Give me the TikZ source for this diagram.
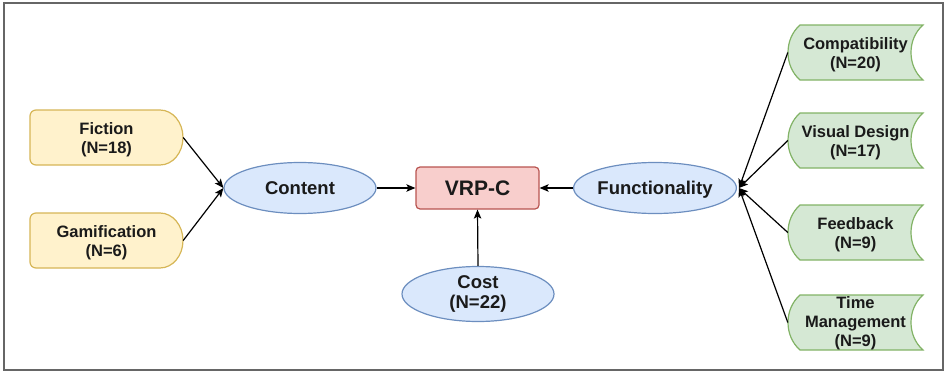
\documentclass[tikz,border=0pt]{standalone}
\usepackage{fontspec}
\setmainfont{Liberation Sans}
\usetikzlibrary{arrows.meta,shapes.geometric}

\definecolor{yfill}{HTML}{FFF2CC}\definecolor{ydraw}{HTML}{D6B656}
\definecolor{bfill}{HTML}{DAE8FC}\definecolor{bdraw}{HTML}{6C8EBF}
\definecolor{rfill}{HTML}{F8CECC}\definecolor{rdraw}{HTML}{B85450}
\definecolor{gfill}{HTML}{D5E8D4}\definecolor{gdraw}{HTML}{82B366}
\definecolor{txt}{HTML}{1A1A1A}

\tikzset{
  bigtext/.style={font=\bfseries\fontsize{18.5}{20}\selectfont, text=txt, align=center},
  smalltext/.style={font=\bfseries\fontsize{16.5}{19}\selectfont, text=txt, align=center},
  oval/.style={ellipse, draw=bdraw, fill=bfill, line width=1.2pt, inner sep=0pt,
               minimum width=152pt, minimum height=51pt, bigtext},
  oneline/.style={text height=13.2pt, text depth=0pt},
  corebox/.style={rectangle, rounded corners=4pt, draw=rdraw, fill=rfill, line width=1.2pt,
               minimum width=123pt, minimum height=42pt, text height=15pt, text depth=0pt,
               font=\bfseries\fontsize{21}{24}\selectfont, text=txt},
  yslot/.style={rectangle, minimum width=153pt, minimum height=55pt, inner sep=0pt, smalltext},
  gslot/.style={rectangle, minimum width=135pt, minimum height=55pt, inner sep=0pt, smalltext},
  yline/.style={draw=ydraw, fill=yfill, line width=1.2pt},
  gline/.style={draw=gdraw, fill=gfill, line width=1.2pt},
  link/.style={draw=black, line width=1.2pt, -{Stealth[length=9pt,width=7.5pt,inset=2pt]}},
}

\begin{document}
\begin{tikzpicture}[x=1pt,y=-1pt]
  \useasboundingbox (0,0) rectangle (946,372);
  \draw[gray!80!black, line width=1.1pt] (4,3) rectangle (943,370);

  % yellow source boxes (delay shape, rounded left corners)
  \foreach \n/\yy in {fic/137.5, gam/240.5}{
    \coordinate (\n-c) at (106.5,\yy);
    \path[yline] ([shift={(53.5,-27.5)}]\n-c)
      -- ([shift={(-70.5,-27.5)}]\n-c)
      .. controls ([shift={(-73.8,-27.5)}]\n-c) and ([shift={(-76.5,-24.8)}]\n-c)
      .. ([shift={(-76.5,-21.5)}]\n-c)
      -- ([shift={(-76.5,21.5)}]\n-c)
      .. controls ([shift={(-76.5,24.8)}]\n-c) and ([shift={(-73.8,27.5)}]\n-c)
      .. ([shift={(-70.5,27.5)}]\n-c)
      -- ([shift={(53.5,27.5)}]\n-c)
      .. controls ([shift={(66.2,27.5)}]\n-c) and ([shift={(76.5,15.2)}]\n-c)
      .. ([shift={(76.5,0)}]\n-c)
      .. controls ([shift={(76.5,-15.2)}]\n-c) and ([shift={(66.2,-27.5)}]\n-c)
      .. cycle;
  }
  \node[yslot] (fic) at ([yshift=-2pt]fic-c) {Fiction\\(N=18)};
  \node[yslot] (gam) at ([yshift=-2pt]gam-c) {Gamification\\(N=6)};

  % green feature boxes (stored-data shape)
  \foreach \n/\yy in {comp/52.5, vis/140.5, feed/232.5, tim/322.5}{
    \coordinate (\n-c) at (855.5,\yy);
    \path[gline] ([shift={(-55.5,-27.5)}]\n-c)
      -- ([shift={(67.5,-27.5)}]\n-c)
      .. controls ([shift={(51.5,-13.5)}]\n-c) and ([shift={(51.5,13.5)}]\n-c)
      .. ([shift={(67.5,27.5)}]\n-c)
      -- ([shift={(-55.5,27.5)}]\n-c)
      .. controls ([shift={(-71.5,13.5)}]\n-c) and ([shift={(-71.5,-13.5)}]\n-c)
      .. cycle;
  }
  \node[gslot] (comp) at ([yshift=-2.5pt]comp-c) {Compatibility\\(N=20)};
  \node[gslot] (vis)  at ([yshift=-2.5pt]vis-c)  {Visual Design\\(N=17)};
  \node[gslot] (feed) at ([yshift=-2.5pt]feed-c) {Feedback\\(N=9)};
  \node[gslot] (tim)  at ([yshift=-1pt]tim-c)  {Time\\Management\\(N=9)};

  % central nodes
  \node[oval, oneline] (content) at (300,188) {Content};
  \node[oval, oneline] (func) at (655,188) {Functionality};
  \node[oval, minimum height=55pt] (cost) at (478,294) {Cost\\(N=22)};
  \node[corebox] (vrp) at (477.5,188) {VRP-C};

  % connectors
  \draw[link] (fic.east |- fic-c) -- (content.west);
  \draw[link] (gam.east |- gam-c) -- (content.west);
  \draw[link] (content.east) -- (vrp.west);
  \draw[link] (func.west) -- (vrp.east);
  \draw[link] (cost.north) -- (vrp.south);
  \foreach \n in {comp,vis,feed,tim}
    \draw[link] (\n.west |- \n-c) -- ([xshift=2pt]func.east);
\end{tikzpicture}
\end{document}
